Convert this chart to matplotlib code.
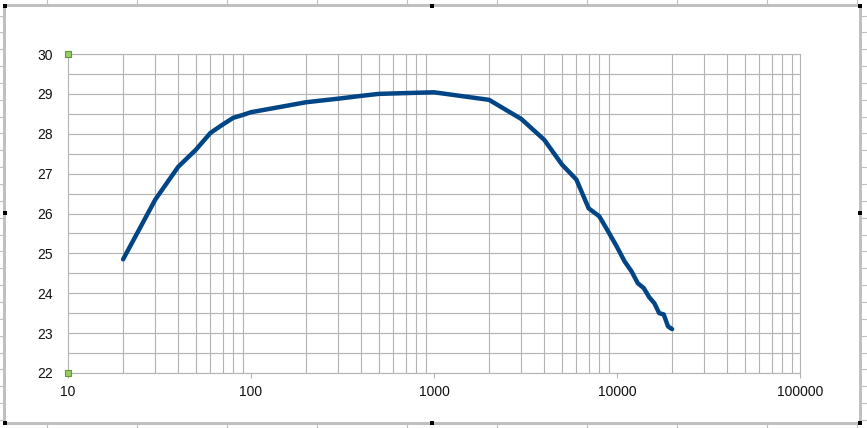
import numpy as np
import matplotlib
matplotlib.use("Agg")
import matplotlib.pyplot as plt
from matplotlib.patches import Rectangle
from matplotlib.ticker import FixedLocator, NullFormatter

plt.rcParams['font.family'] = ['Liberation Sans', 'DejaVu Sans']

# frequency (log axis) vs level
freq = [20, 30, 40, 50, 60, 70, 80, 90, 100, 200, 300, 400, 500, 1000, 2000, 3000,
        4000, 5000, 6000, 7000, 8000, 9000, 10000, 11000, 12000, 13000, 14000,
        15000, 16000, 17000, 18000, 19000, 20000]
level = [24.85, 26.35, 27.17, 27.6, 28.02, 28.23, 28.4, 28.47, 28.54, 28.79, 28.88,
         28.95, 29.0, 29.04, 28.85, 28.37, 27.85, 27.23, 26.85, 26.13, 25.93, 25.53,
         25.16, 24.8, 24.55, 24.25, 24.13, 23.9, 23.75, 23.5, 23.47, 23.17, 23.1]

x_major = [10, 100, 1000, 10000, 100000]
x_labels = ['10', '100', '1000', '10000', '100000']
y_major = [22, 23, 24, 25, 26, 27, 28, 29, 30]

W, H = 867, 428
grid_col = '#b3b3b3'
sheet_col = '#c0c0c0'

fig = plt.figure(figsize=(W / 100, H / 100), dpi=100)

# background: spreadsheet + chart frame, drawn in pixel coordinates
bg = fig.add_axes([0, 0, 1, 1], zorder=-1)
bg.set_xlim(0, W)
bg.set_ylim(H, 0)
bg.axis('off')
for cx in range(47, W, 90):
    bg.plot([cx, cx], [0, 4], color=sheet_col, lw=0.8)
    bg.plot([cx, cx], [425, H], color=sheet_col, lw=0.8)
for ry in np.arange(15.5, H, 16.85):
    bg.plot([0, 3], [ry, ry], color=sheet_col, lw=0.8)
    bg.plot([862, W], [ry, ry], color=sheet_col, lw=0.8)
bg.add_patch(Rectangle((3, 4), 859, 3, color=sheet_col, lw=0))
bg.add_patch(Rectangle((3, 422), 859, 3, color=sheet_col, lw=0))
bg.add_patch(Rectangle((3, 4), 3, 421, color=sheet_col, lw=0))
bg.add_patch(Rectangle((859, 4), 3, 421, color=sheet_col, lw=0))
for hx in [3, 430, 858]:
    for hy in [4, 211, 421]:
        if hx == 430 and hy == 211:
            continue
        bg.add_patch(Rectangle((hx, hy), 4, 4, color='black', lw=0))

ax = fig.add_axes([68 / W, (H - 373) / H, 732 / W, 319 / H])
ax.set_xscale('log')
ax.set_xlim(10, 100000)
ax.set_ylim(22, 30)

ax.plot(freq, level, color='#004586', lw=3.2, solid_joinstyle='round',
        solid_capstyle='round', zorder=3)

ax.xaxis.set_major_locator(FixedLocator(x_major))
ax.set_xticklabels(x_labels)
minor = [m * d for d in [10, 100, 1000, 10000] for m in range(2, 10)]
ax.xaxis.set_minor_locator(FixedLocator(minor))
ax.xaxis.set_minor_formatter(NullFormatter())
ax.set_yticks(y_major)
ax.yaxis.set_minor_locator(FixedLocator(np.arange(22.5, 30, 1.0)))

ax.grid(False)
ax.grid(True, axis='x', which='minor', color=grid_col, lw=0.8)
ax.grid(True, axis='y', which='both', color=grid_col, lw=0.8)
for s in ax.spines.values():
    s.set_color(grid_col)
    s.set_linewidth(0.8)

ax.tick_params(axis='x', which='major', length=3.5, width=0.8, color=grid_col,
               labelsize=10, pad=5, labelcolor='#111111')
ax.tick_params(axis='x', which='minor', length=0)
ax.tick_params(axis='y', which='both', length=0, labelsize=10, pad=11,
               labelcolor='#111111')

# axis selection handles
ax.plot([10, 10], [22, 30], ls='none', marker='s', ms=5, mfc='#99cc66',
        mec='#5f9a2e', mew=0.8, clip_on=False, zorder=5)

fig.savefig('out.png', dpi=100, facecolor='white')
